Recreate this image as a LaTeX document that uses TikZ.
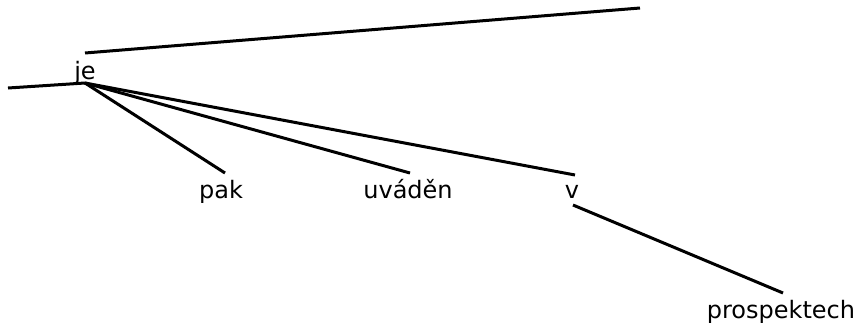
\documentclass[tikz,border=0pt]{standalone}
\usepackage{fontspec}
\setmainfont{DejaVu Sans}
\begin{document}
\begin{tikzpicture}[x=1pt,y=-1pt,
  word/.style={inner sep=0pt,anchor=base,font=\fontsize{24}{28}\selectfont},
  edge/.style={line width=3pt,line cap=butt}]
\useasboundingbox (0,0) rectangle (860,322);
% words of the tree
\node[word] (je) at (85,79) {je};
\node[word] (pak) at (221,198) {pak};
\node[word] (uvaden) at (408,198) {uváděn};
\node[word] (v) at (572,198) {v};
\node[word] (prospektech) at (781,318) {prospektech};
% attachment points
\coordinate (jetop) at (85,53);
\coordinate (jebot) at (85,83);
\coordinate (upfree) at (640,8);
\coordinate (leftfree) at (8,88);
\coordinate (paktop) at (225,173);
\coordinate (uvtop) at (410,173);
\coordinate (vtop) at (575,175);
\coordinate (vbot) at (573,205);
\coordinate (prtop) at (783,293);
% edges
\draw[edge] (jetop) -- (upfree);
\draw[edge] (leftfree) -- (jebot);
\draw[edge] (jebot) -- (paktop);
\draw[edge] (jebot) -- (uvtop);
\draw[edge] (jebot) -- (vtop);
\draw[edge] (vbot) -- (prtop);
\end{tikzpicture}
\end{document}
